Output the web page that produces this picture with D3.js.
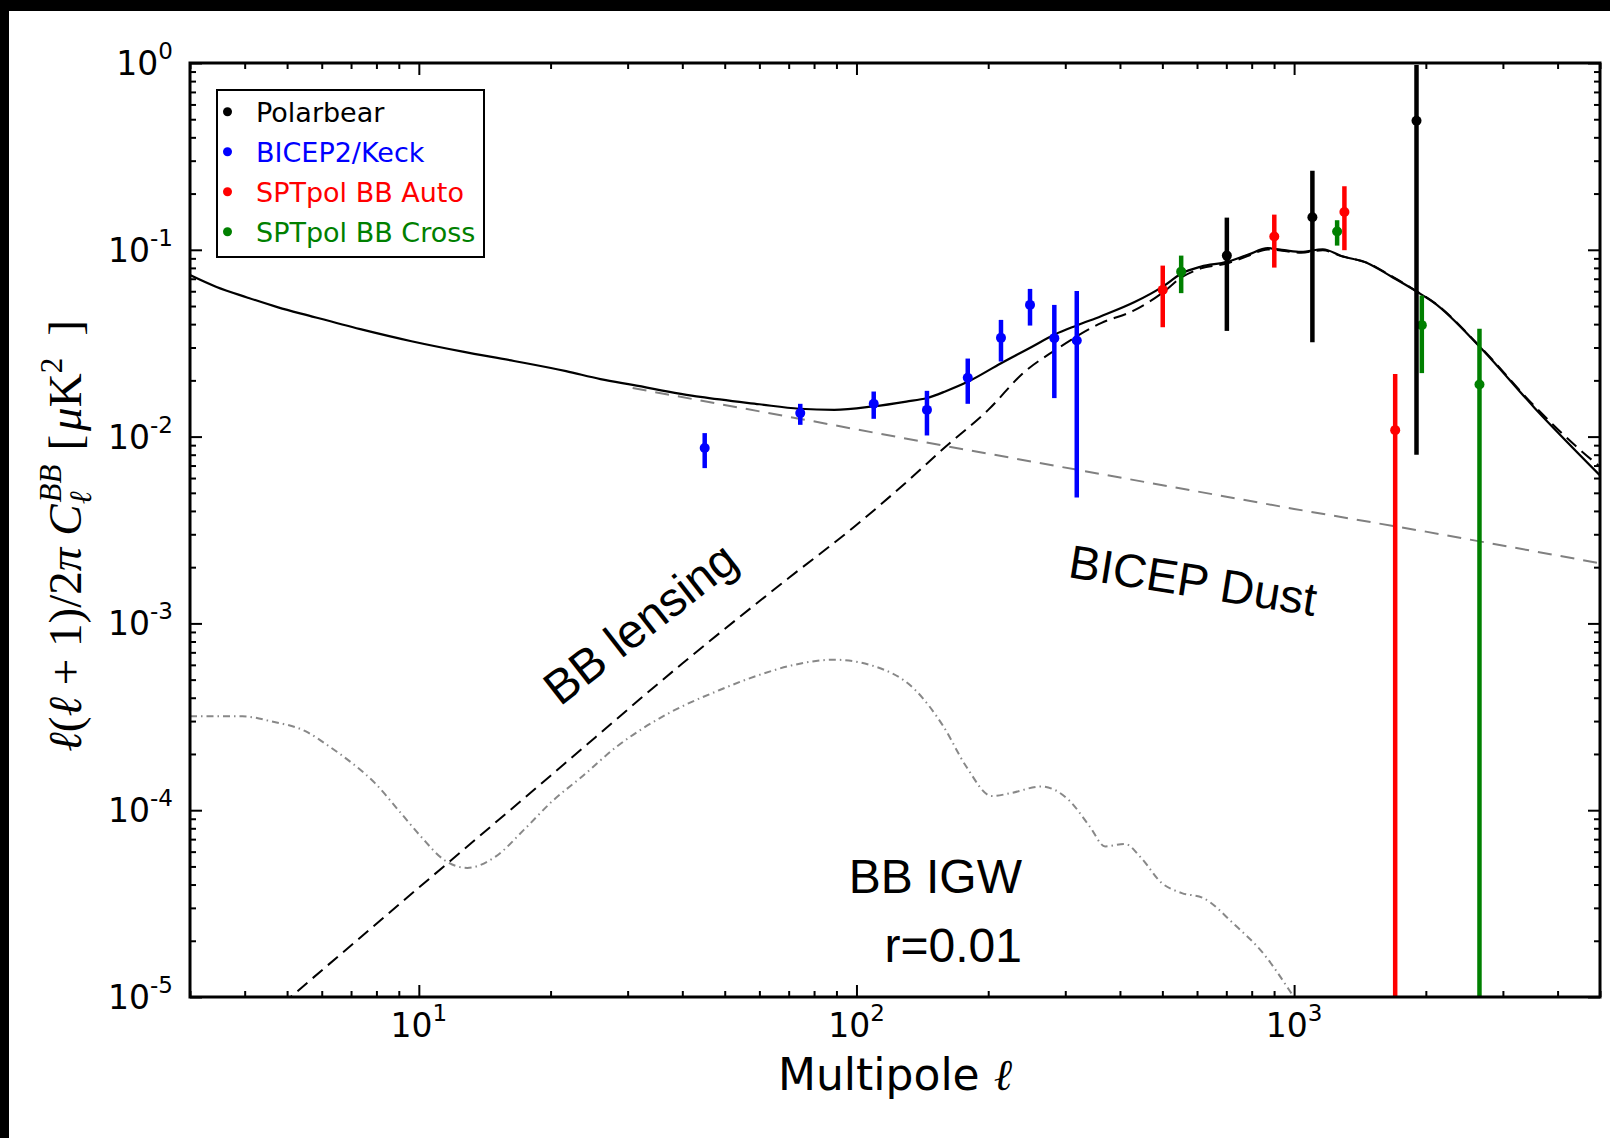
<!DOCTYPE html>
<html><head><meta charset="utf-8">
<script src="https://cdn.jsdelivr.net/npm/d3@7"></script>
<style>
html,body{margin:0;padding:0;background:#fff;}
svg{display:block;}
</style></head>
<body>
<script>
// ---------- data ----------
const totalL = [3.0,3.45,4.05,4.77,5.61,7.35,9.62,12.6,16.5,21.7,26,30.8,44,60,74,89,109,130,145,160,180,214,250,283,320,362,432,501,552,613,702,783,871,950,1038,1163,1282,1473,1667,1905,2094,2654,3548,5000];
const totalV = [0.0732,0.0632,0.0556,0.0492,0.0444,0.0376,0.0324,0.0285,0.0254,0.0224,0.0203,0.0189,0.0163,0.0149,0.0141,0.0139,0.0145,0.0154,0.0161,0.0175,0.0197,0.0247,0.0300,0.0351,0.0395,0.0441,0.0525,0.0635,0.0745,0.0813,0.0862,0.094,0.102,0.0995,0.0975,0.1007,0.0927,0.0848,0.0719,0.0598,0.0518,0.0303,0.0142,0.0062];

const lensL = [4.5,10,12.5,20,40,70,99,130,160,200,242,283,362,432,501,552,613,702,783,871,950,1038,1163,1282,1473,1667,1905,2094,2654,3548,4500,5000];
const lensV = [7.8e-6,3.85e-5,6.0e-5,1.53e-4,6.1e-4,1.75e-3,3.3e-3,5.7e-3,8.85e-3,0.0139,0.0222,0.0288,0.0405,0.0475,0.059,0.071,0.0795,0.0845,0.0925,0.1005,0.0985,0.0965,0.0995,0.0925,0.0850,0.0725,0.0600,0.0520,0.0305,0.0145,0.0085,0.0069];

const dustL = [30.8,75,160,362,1000,2000,5000];
const dustV = [0.0182,0.0124,0.0089,0.0063,0.0041,0.0031,0.0021];

const igwL = [3.0,3.95,4.6,5.52,6.23,7.03,7.93,8.95,10.1,11.4,12.9,15.0,17.4,20.2,23.5,28.4,37.2,48.7,60,71,88.9,110,136,158,178,204,227,264,306,341,370,411,446,497,554,618,727,854,977,1100];
const igwV = [3.18e-4,3.18e-4,2.99e-4,2.64e-4,2.2e-4,1.79e-4,1.40e-4,1.01e-4,7.25e-5,5.44e-5,4.91e-5,5.66e-5,7.87e-5,1.12e-4,1.5e-4,2.2e-4,3.3e-4,4.4e-4,5.3e-4,5.95e-4,6.39e-4,5.89e-4,4.42e-4,2.81e-4,1.72e-4,1.19e-4,1.24e-4,1.34e-4,1.13e-4,8.2e-5,6.4e-5,6.6e-5,5.6e-5,4.1e-5,3.6e-5,3.4e-5,2.47e-5,1.69e-5,1.08e-5,7e-6];

// data points with error bars
const pbL = [702,1101,1904];
const pbV = [0.0931,0.1494,0.4912];
const pbHi = [0.1487,0.2653,0.9757];
const pbLo = [0.0368,0.032,0.00799];

const bkL = [45,74.4,109.5,144.9,179.6,213.9,249.2,283.2,318.7];
const bkV = [0.00868,0.01336,0.01498,0.0139,0.02064,0.03378,0.0507,0.03365,0.03267];
const bkHi = [0.01044,0.01498,0.01743,0.01758,0.02617,0.04215,0.06176,0.0507,0.06027];
const bkLo = [0.00678,0.01156,0.01245,0.01014,0.01498,0.02523,0.0393,0.01607,0.00472];

const autoL = [501,901,1303,1702];
const autoV = [0.061,0.1177,0.1595,0.01083];
const autoHi = [0.0823,0.1543,0.2189,0.0216];
const autoLo = [0.0385,0.0803,0.0995,1e-7];

const crossL = [552,1254,1958,2652];
const crossV = [0.0764,0.1252,0.0395,0.019];
const crossHi = [0.0931,0.144,0.0569,0.03773];
const crossLo = [0.0586,0.1053,0.02187,1e-7];

const legendNames = ["Polarbear","BICEP2/Keck","SPTpol BB Auto","SPTpol BB Cross"];
const xMajor = [10,100,1000];
const xMajorExp = ["1","2","3"];
const yMajor = [1,0.1,0.01,0.001,0.0001,0.00001];
const yMajorExp = ["0","-1","-2","-3","-4","-5"];

// ---------- layout ----------
const W = 1610, H = 1138;
const L = 190, R = 1600, T = 63, B = 997;
const svg = d3.select("body").append("svg").attr("width",W).attr("height",H);
svg.append("rect").attr("width",W).attr("height",H).attr("fill","#fff");
svg.append("rect").attr("x",0).attr("y",0).attr("width",W).attr("height",11).attr("fill","#000");
svg.append("rect").attr("x",0).attr("y",0).attr("width",9).attr("height",H).attr("fill","#000");

const x = d3.scaleLog().domain([3,5000]).range([L,R]);
const y = d3.scaleLog().domain([1e-5,1]).range([B,T]);

svg.append("clipPath").attr("id","clip").append("rect")
  .attr("x",L).attr("y",T).attr("width",R-L).attr("height",B-T);
const plot = svg.append("g").attr("clip-path","url(#clip)");

const line = d3.line().x(d=>x(d[0])).y(d=>y(d[1])).curve(d3.curveMonotoneX);
const lineStraight = d3.line().x(d=>x(d[0])).y(d=>y(d[1]));
const zip = (a,b)=>a.map((v,i)=>[v,b[i]]);

plot.append("path").datum(zip(igwL,igwV)).attr("d",line).attr("fill","none")
  .attr("stroke","#888").attr("stroke-width",2).attr("stroke-dasharray","7,4,1.5,4");
plot.append("path").datum(zip(dustL,dustV)).attr("d",lineStraight).attr("fill","none")
  .attr("stroke","#808080").attr("stroke-width",2).attr("stroke-dasharray","14,9");
plot.append("path").datum(zip(lensL,lensV)).attr("d",line).attr("fill","none")
  .attr("stroke","#000").attr("stroke-width",2).attr("stroke-dasharray","13,7");
plot.append("path").datum(zip(totalL,totalV)).attr("d",line).attr("fill","none")
  .attr("stroke","#000").attr("stroke-width",2.2);

const series = [
  {L:bkL,V:bkV,Hi:bkHi,Lo:bkLo,c:"#0000ff"},
  {L:autoL,V:autoV,Hi:autoHi,Lo:autoLo,c:"#ff0000"},
  {L:crossL,V:crossV,Hi:crossHi,Lo:crossLo,c:"#008000"},
  {L:pbL,V:pbV,Hi:pbHi,Lo:pbLo,c:"#000000"}
];
series.forEach(s=>{
  const g = plot.append("g");
  g.selectAll("line").data(s.L).enter().append("line")
    .attr("x1",d=>x(d)).attr("x2",d=>x(d))
    .attr("y1",(d,i)=>y(s.Hi[i])).attr("y2",(d,i)=>y(s.Lo[i]))
    .attr("stroke",s.c).attr("stroke-width",4.5);
  g.selectAll("circle").data(s.L).enter().append("circle")
    .attr("cx",d=>x(d)).attr("cy",(d,i)=>y(s.V[i])).attr("r",5).attr("fill",s.c);
});

// ---------- axes ----------
const xMinor = [];
[1,10,100,1000].forEach(p=>{for(let k=2;k<=9;k++){const v=k*p; if(v>=3&&v<=5000&&v!==10&&v!==100&&v!==1000) xMinor.push(v);}});
const yMinor = [];
[1e-5,1e-4,1e-3,1e-2,1e-1].forEach(p=>{for(let k=2;k<=9;k++) yMinor.push(k*p);});

function styleAxis(g){ g.select(".domain").remove(); g.selectAll(".tick line").attr("stroke","#000").attr("stroke-width",2); g.selectAll(".tick text").remove(); }

svg.append("g").attr("transform",`translate(0,${B})`).call(d3.axisBottom(x).tickValues(xMajor).tickSize(-12).tickFormat("")).call(styleAxis);
svg.append("g").attr("transform",`translate(0,${B})`).call(d3.axisBottom(x).tickValues(xMinor).tickSize(-6).tickFormat("")).call(styleAxis);
svg.append("g").attr("transform",`translate(0,${T})`).call(d3.axisTop(x).tickValues(xMajor).tickSize(-12).tickFormat("")).call(styleAxis);
svg.append("g").attr("transform",`translate(0,${T})`).call(d3.axisTop(x).tickValues(xMinor).tickSize(-6).tickFormat("")).call(styleAxis);
svg.append("g").attr("transform",`translate(${L},0)`).call(d3.axisLeft(y).tickValues(yMajor).tickSize(-12).tickFormat("")).call(styleAxis);
svg.append("g").attr("transform",`translate(${L},0)`).call(d3.axisLeft(y).tickValues(yMinor).tickSize(-6).tickFormat("")).call(styleAxis);
svg.append("g").attr("transform",`translate(${R},0)`).call(d3.axisRight(y).tickValues(yMajor).tickSize(-12).tickFormat("")).call(styleAxis);
svg.append("g").attr("transform",`translate(${R},0)`).call(d3.axisRight(y).tickValues(yMinor).tickSize(-6).tickFormat("")).call(styleAxis);

svg.append("rect").attr("x",L).attr("y",T).attr("width",R-L).attr("height",B-T)
  .attr("fill","none").attr("stroke","#000").attr("stroke-width",3);

const tickFont = "DejaVu Sans, sans-serif";
xMajor.forEach((v,i)=>{
  const t = svg.append("text").attr("x",x(v)).attr("y",1037).attr("text-anchor","middle")
    .attr("font-family",tickFont).attr("font-size",33).attr("fill","#000");
  t.append("tspan").text("10");
  t.append("tspan").attr("font-size",23).attr("dy",-16).text(xMajorExp[i]);
});
yMajor.forEach((v,i)=>{
  const t = svg.append("text").attr("x",173).attr("y",y(v)+12).attr("text-anchor","end")
    .attr("font-family",tickFont).attr("font-size",33).attr("fill","#000");
  t.append("tspan").text("10");
  t.append("tspan").attr("font-size",23).attr("dy",-16).text(yMajorExp[i]);
});

// x title
const xt = svg.append("text").attr("x",895).attr("y",1090).attr("text-anchor","middle")
  .attr("font-family",tickFont).attr("font-size",44).attr("fill","#000");
xt.append("tspan").text("Multipole ");
xt.append("tspan").attr("font-family","DejaVu Serif, serif").attr("font-style","italic").text("ℓ");

// y title
const yt = svg.append("text").attr("transform","translate(81,536) rotate(-90)").attr("text-anchor","middle")
  .attr("font-family","Liberation Serif, DejaVu Serif, serif").attr("font-size",47).attr("fill","#000");
yt.append("tspan").attr("font-style","italic").text("ℓ");
yt.append("tspan").text("(");
yt.append("tspan").attr("font-style","italic").text("ℓ");
yt.append("tspan").text(" + 1)/2");
yt.append("tspan").attr("font-style","italic").text("π");
yt.append("tspan").attr("font-style","italic").attr("dx",12).text("C");
yt.append("tspan").attr("font-style","italic").attr("font-size",31).attr("dy",10).text("ℓ");
yt.append("tspan").attr("font-style","italic").attr("font-size",31).attr("dx",-11).attr("dy",-30).text("BB");
yt.append("tspan").attr("dy",20).attr("dx",14).text("[");
yt.append("tspan").attr("dx",4).attr("font-style","italic").text("μ");
yt.append("tspan").text("K");
yt.append("tspan").attr("font-size",31).attr("dy",-19).text("2");
yt.append("tspan").attr("dy",19).attr("dx",22).text("]");

// annotations
const annFont = "Liberation Sans, Arial, sans-serif";
svg.append("text").attr("transform","translate(560,707) rotate(-38)")
  .attr("font-family",annFont).attr("font-size",48).attr("fill","#000").text("BB lensing");
svg.append("text").attr("transform","translate(1067,577) rotate(9)")
  .attr("font-family",annFont).attr("font-size",47).attr("fill","#000").text("BICEP Dust");
svg.append("text").attr("x",1022).attr("y",893).attr("text-anchor","end")
  .attr("font-family",annFont).attr("font-size",48).attr("fill","#000").text("BB IGW");
svg.append("text").attr("x",1022).attr("y",962).attr("text-anchor","end")
  .attr("font-family",annFont).attr("font-size",48).attr("fill","#000").text("r=0.01");

// legend
const lg = svg.append("g");
lg.append("rect").attr("x",217).attr("y",90).attr("width",267).attr("height",167)
  .attr("fill","#fff").attr("stroke","#000").attr("stroke-width",2);
const legColors = ["#000000","#0000ff","#ff0000","#008000"];
legendNames.forEach((n,i)=>{
  const cy = 111.7 + i*40;
  lg.append("circle").attr("cx",227.5).attr("cy",cy).attr("r",4.5).attr("fill",legColors[i]);
  lg.append("text").attr("x",256).attr("y",cy+10).attr("font-family",tickFont).attr("font-size",27)
    .attr("fill",legColors[i]).text(n);
});
</script>
</body></html>
